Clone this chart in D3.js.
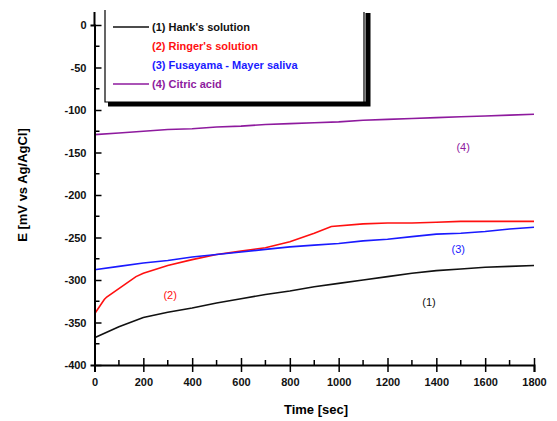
<!DOCTYPE html>
<html>
<head>
<meta charset="utf-8">
<script src="https://cdn.jsdelivr.net/npm/d3@7"></script>
<style>
  body { margin: 0; background: #fff; }
  svg { display: block; }
  text { font-family: "Liberation Sans", Arial, sans-serif; }
</style>
</head>
<body>
<svg id="chart" width="557" height="421"></svg>
<script>
// data (time in sec, E in mV)
var times = [0, 100, 200, 300, 400, 500, 600, 700, 800, 900, 1000, 1100, 1200, 1300, 1400, 1500, 1600, 1700, 1800];
var hank = [-368, -355, -344, -338, -333, -327, -322, -317, -313, -308, -304, -300, -296, -292, -289, -287, -285, -284, -283];
var ringerT = [0, 40, 50, 170, 200, 300, 400, 500, 600, 700, 800, 900, 970, 1100, 1200, 1300, 1400, 1500, 1600, 1700, 1800];
var ringer = [-340, -323, -320, -296, -292, -283, -276, -270, -266, -262, -255, -245, -237, -234, -233, -233, -232, -231, -231, -231, -231];
var fusayama = [-288, -284, -280, -277, -273, -270, -267, -264, -261, -259, -257, -254, -252, -249, -246, -245, -243, -240, -238];
var citric = [-129, -127, -125, -123, -122, -120, -119, -117, -116, -115, -114, -112, -111, -110, -109, -108, -107, -106, -105];

var legendNames = ["(1) Hank's solution", "(2) Ringer's solution", "(3) Fusayama - Mayer saliva", "(4) Citric acid"];
var colors = ["#111111", "#ff1010", "#1a1aff", "#8e1a9e"];
var xTicks = [0, 200, 400, 600, 800, 1000, 1200, 1400, 1600, 1800];
var yTicks = [0, -50, -100, -150, -200, -250, -300, -350, -400];

var svg = d3.select('#chart');
var x = d3.scaleLinear().domain([0, 1800]).range([94.5, 534]);
var y = d3.scaleLinear().domain([0, -400]).range([25, 365]);

var series = [
  { t: times, v: hank, c: colors[0] },
  { t: ringerT, v: ringer, c: colors[1] },
  { t: times, v: fusayama, c: colors[2] },
  { t: times, v: citric, c: colors[3] }
];

var line = d3.line()
  .x(d => x(d[0]))
  .y(d => y(d[1]));

series.forEach(function (s) {
  svg.append('path')
    .datum(s.t.map((t, i) => [t, s.v[i]]))
    .attr('d', line)
    .attr('fill', 'none')
    .attr('stroke', s.c)
    .attr('stroke-width', 1.6);
});

// axes
var plain = d => String(d).replace('\u2212', '-');
var xAxisG = svg.append('g').attr('transform', 'translate(0,' + y(-400) + ')');
xAxisG.call(d3.axisBottom(x).tickValues(xTicks).tickFormat(plain).tickSize(7).tickPadding(6));
xAxisG.selectAll('.tick line').attr('y1', -7);
xAxisG.selectAll('.minor')
  .data(d3.range(100, 1800, 200))
  .enter().append('line')
  .attr('x1', d => x(d)).attr('x2', d => x(d))
  .attr('y1', 0).attr('y2', -5)
  .attr('stroke', '#000').attr('stroke-width', 1.5);

var yAxisG = svg.append('g').attr('transform', 'translate(' + x(0) + ',0)');
yAxisG.call(d3.axisLeft(y).tickValues(yTicks).tickFormat(plain).tickSize(4).tickPadding(4));
yAxisG.selectAll('.tick line').attr('x2', 7);
yAxisG.selectAll('.minor')
  .data(d3.range(-25, -400, -50))
  .enter().append('line')
  .attr('y1', d => y(d)).attr('y2', d => y(d))
  .attr('x1', 0).attr('x2', 5)
  .attr('stroke', '#000').attr('stroke-width', 1.5);

[xAxisG, yAxisG].forEach(function (g) {
  g.select('.domain').attr('stroke', '#000').attr('stroke-width', 2);
  g.selectAll('.tick line').attr('stroke', '#000').attr('stroke-width', 1.5);
  g.selectAll('.tick text')
    .attr('fill', '#111')
    .style('font-size', '11px')
    .style('font-weight', 'bold');
});
// extend y axis line to the top like the original
svg.append('line')
  .attr('x1', x(0)).attr('x2', x(0))
  .attr('y1', 12).attr('y2', y(0))
  .attr('stroke', '#000').attr('stroke-width', 2);

svg.append('text')
  .attr('x', 316).attr('y', 414)
  .attr('text-anchor', 'middle')
  .style('font-size', '13px').style('font-weight', 'bold')
  .text('Time [sec]');

svg.append('text')
  .attr('transform', 'translate(27,185) rotate(-90)')
  .attr('text-anchor', 'middle')
  .style('font-size', '13px').style('font-weight', 'bold')
  .text('E [mV vs Ag/AgCl]');

// legend box (open top, drop shadow bottom/right)
var lg = svg.append('g');
lg.append('path')
  .attr('d', 'M108,104 H368 V13')
  .attr('fill', 'none').attr('stroke', '#000').attr('stroke-width', 5);
lg.append('path')
  .attr('d', 'M105,10 V102 H364 V12')
  .attr('fill', '#fff').attr('stroke', '#000').attr('stroke-width', 1.2);

var legendY = [27, 46, 65, 84];
legendNames.forEach(function (name, i) {
  if (i === 0 || i === 3) {
    lg.append('line')
      .attr('x1', 113).attr('x2', 149)
      .attr('y1', legendY[i]).attr('y2', legendY[i])
      .attr('stroke', colors[i]).attr('stroke-width', 1.6);
  }
  lg.append('text')
    .attr('x', 152).attr('y', legendY[i] + 4)
    .attr('fill', colors[i])
    .style('font-size', '11px').style('font-weight', 'bold')
    .text(name);
});

// curve labels
var labels = [
  { t: '(1)', x: 1370, v: -330, c: colors[0] },
  { t: '(2)', x: 310, v: -322, c: colors[1] },
  { t: '(3)', x: 1490, v: -268, c: colors[2] },
  { t: '(4)', x: 1510, v: -148, c: colors[3] }
];
labels.forEach(function (l) {
  svg.append('text')
    .attr('x', x(l.x)).attr('y', y(l.v))
    .attr('text-anchor', 'middle')
    .attr('fill', l.c)
    .style('font-size', '11px')
    .text(l.t);
});
</script>
</body>
</html>
